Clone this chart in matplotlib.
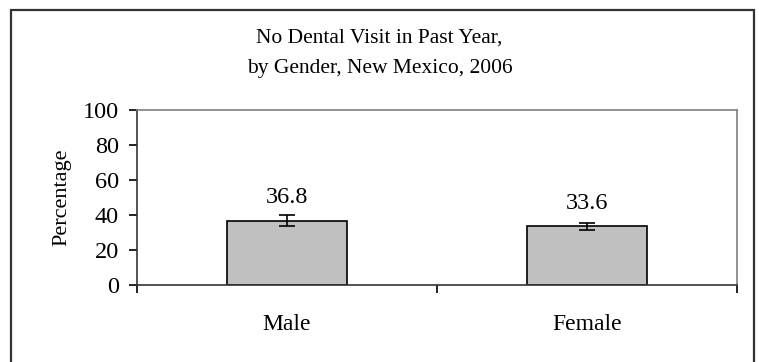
import matplotlib.pyplot as plt
from matplotlib.patches import Rectangle

# Data
categories = ["Male", "Female"]
values = [36.8, 33.6]
err_low = [33.6, 31.6]
err_high = [40.0, 35.6]

plt.rcParams['font.family'] = ['Liberation Serif', 'DejaVu Serif']

fig = plt.figure(figsize=(7.59, 3.62), dpi=100)
ax = fig.add_axes([137 / 759, 1 - 285 / 362, 600 / 759, 175 / 362])

# outer border around the chart
fig.patches.append(Rectangle((11 / 759, -0.1), 743 / 759, 1.1 - 10 / 362,
                             transform=fig.transFigure, fill=False,
                             edgecolor="#333333", linewidth=1.6))

x = list(range(len(categories)))
yerr = [[v - lo for v, lo in zip(values, err_low)],
        [hi - v for v, hi in zip(values, err_high)]]
ax.bar(x, values, width=0.4, color="#c0c0c0", edgecolor="black", linewidth=1.2)
ax.errorbar(x, values, yerr=yerr, fmt="none", ecolor="black",
            elinewidth=1.2, capsize=5.5, capthick=1.2)

for xi, v in zip(x, values):
    ax.text(xi, v + 13, f"{v:.1f}", ha="center", va="center", fontsize=17.5)

ax.set_xlim(-0.5, 1.5)
ax.set_ylim(0, 100)
ax.set_yticks(range(0, 101, 20))
ax.set_xticks(x)
ax.set_xticklabels(categories)
ax.set_xticks([-0.5, 0.5, 1.5], minor=True)
ax.tick_params(axis="x", which="major", length=0, pad=21, labelsize=17)
ax.tick_params(axis="x", which="minor", length=6, width=1.2, direction="out")
ax.tick_params(axis="y", length=6, width=1.2, labelsize=17.5, pad=7)
ax.set_ylabel("Percentage", fontsize=16, labelpad=8)

for s in ["top", "right"]:
    ax.spines[s].set_color("#808080")
    ax.spines[s].set_linewidth(1.2)
for s in ["left", "bottom"]:
    ax.spines[s].set_color("#333333")
    ax.spines[s].set_linewidth(1.2)

fig.text(0.5, 1 - 38 / 362, "No Dental Visit in Past Year,", ha="center", va="center", fontsize=15.5)
fig.text(0.5, 1 - 68 / 362, "by Gender, New Mexico, 2006", ha="center", va="center", fontsize=15.5)

fig.savefig("out.png", dpi=100)
